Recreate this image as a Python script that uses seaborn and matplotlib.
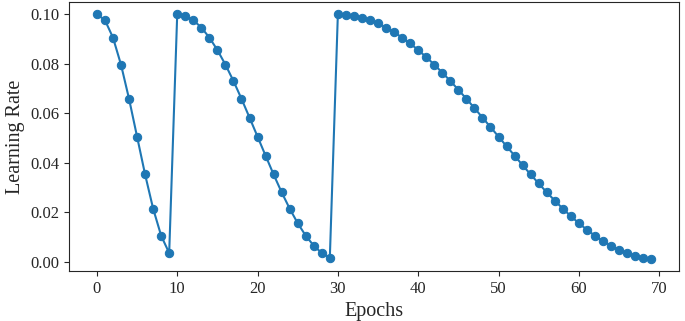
import matplotlib
matplotlib.use("Agg")
import matplotlib.pyplot as plt
import seaborn as sns
import pandas as pd

# learning rate per epoch (cosine annealing with warm restarts)
cycle1 = [0.1, 0.09758, 0.09055, 0.0796, 0.0658, 0.0505, 0.0352, 0.0214, 0.01045, 0.00342]
cycle2 = [0.1, 0.09939, 0.09758, 0.0946, 0.09055, 0.0855, 0.0796, 0.0730, 0.0658, 0.0582,
          0.0505, 0.0428, 0.0352, 0.0280, 0.0214, 0.0155, 0.01045, 0.0064, 0.00342, 0.0016]
cycle3 = [0.1, 0.09985, 0.09939, 0.09863, 0.09758, 0.09623, 0.0946, 0.09271, 0.09055, 0.08814,
          0.0855, 0.08265, 0.0796, 0.07636, 0.0730, 0.06944, 0.0658, 0.06206, 0.0582, 0.05438,
          0.0505, 0.04662, 0.0428, 0.03894, 0.0352, 0.03156, 0.0280, 0.02464, 0.0214, 0.01835,
          0.0155, 0.01286, 0.01045, 0.00829, 0.0064, 0.00477, 0.00342, 0.00237, 0.0016, 0.00115]
learning_rate = cycle1 + cycle2 + cycle3
epochs = list(range(len(learning_rate)))

df = pd.DataFrame({"epoch": epochs, "lr": learning_rate})

sns.set_style("ticks")
plt.rcParams["font.family"] = ["Liberation Serif", "DejaVu Serif"]

fig, ax = plt.subplots(figsize=(6.85, 3.21), dpi=100)
sns.lineplot(data=df, x="epoch", y="lr", marker="o", color="#1f77b4",
             markeredgecolor="#1f77b4", markersize=6, linewidth=1.5, ax=ax)
ax.set_xlabel("Epochs", fontsize=14.5)
ax.set_ylabel("Learning Rate", fontsize=14.5)
ax.set_xticks([0, 10, 20, 30, 40, 50, 60, 70])
ax.set_yticks([0.0, 0.02, 0.04, 0.06, 0.08, 0.10])
ax.set_yticklabels(["0.00", "0.02", "0.04", "0.06", "0.08", "0.10"])
ax.tick_params(labelsize=12)
plt.subplots_adjust(left=0.101, right=0.991, top=0.994, bottom=0.156)
plt.savefig("out.png")
